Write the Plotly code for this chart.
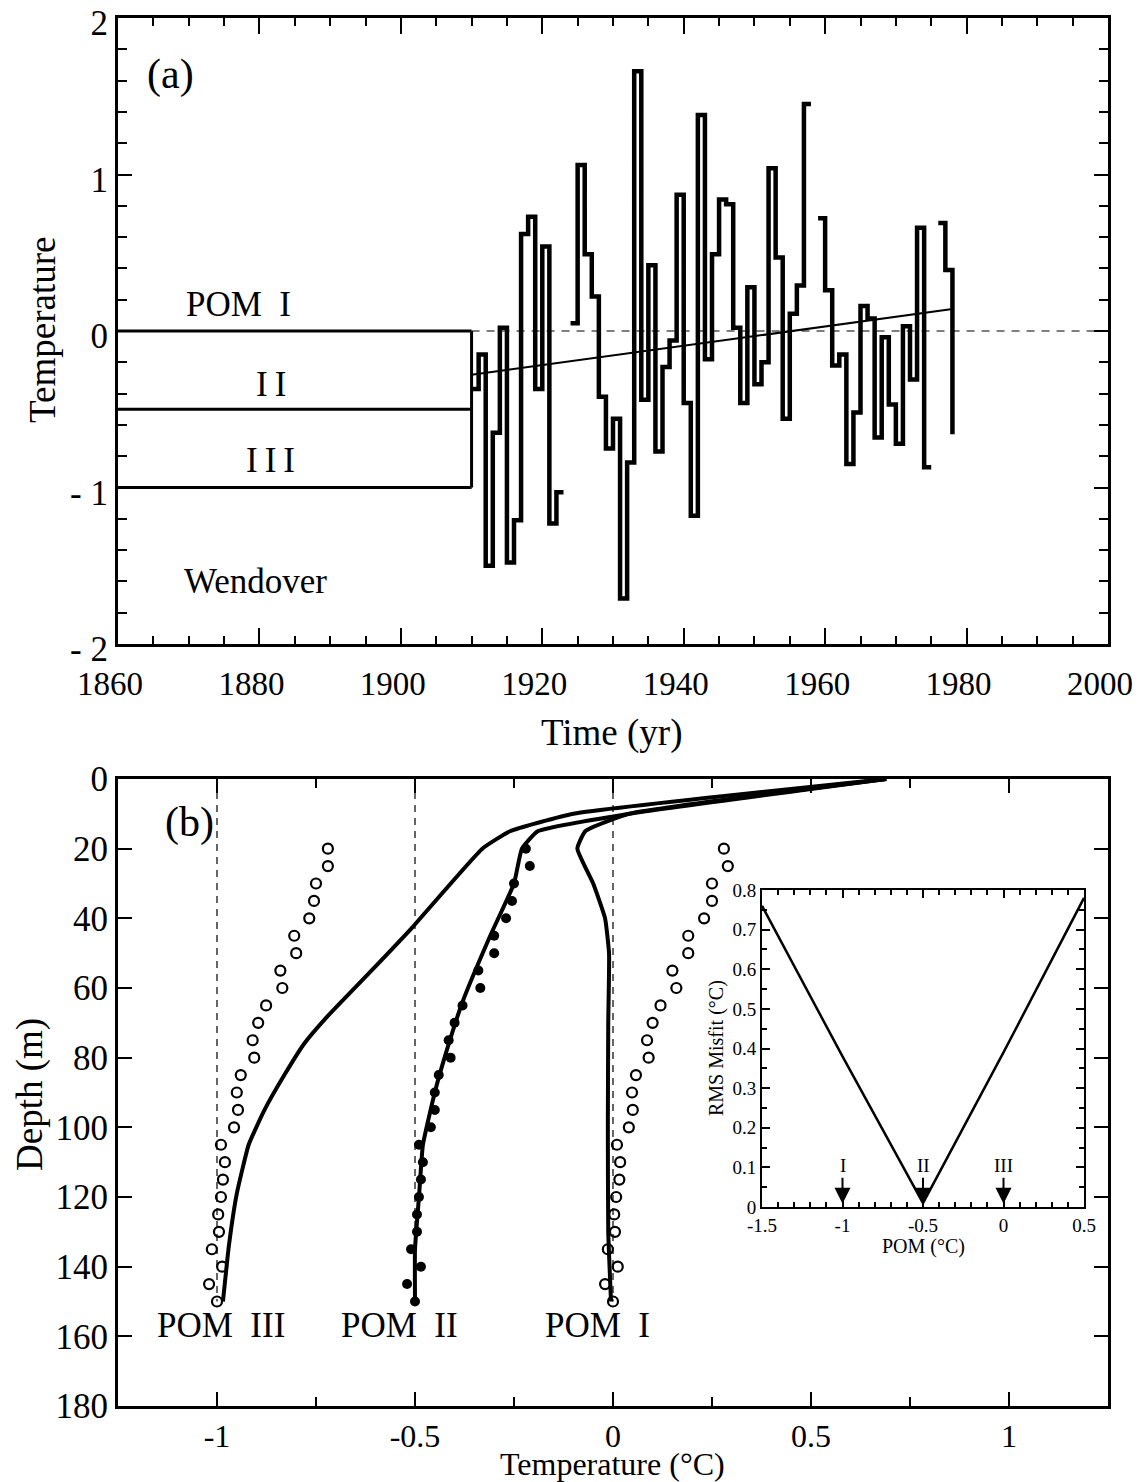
import plotly.graph_objects as go

# ---------------- Panel (a) data ----------------
years = list(range(1910, 1978))
temps = [-0.37, -0.15, -1.50, -0.65, 0.02, -1.48, -1.21, 0.62, 0.73, -0.37,
         0.54, -1.23, -1.03, None, 0.05, 1.06, 0.49, 0.22, -0.42, -0.75,
         -0.56, -1.71, -0.84, 1.66, -0.44, 0.42, -0.77, -0.23, -0.06, 0.87,
         -0.46, -1.18, 1.38, -0.18, 0.49, 0.84, 0.81, 0.02, -0.46, 0.28,
         -0.34, -0.20, 1.04, 0.47, -0.56, 0.11, 0.29, 1.45, None, 0.72,
         0.26, -0.22, -0.15, -0.85, -0.52, 0.16, 0.08, -0.68, -0.04, -0.47,
         -0.72, 0.03, -0.31, 0.66, -0.87, None, 0.69, 0.39]
end_year = 1978
end_temp = -0.66

trend_years = [1910, 1978]
trend_temps = [-0.28, 0.14]

pom_levels = [0.0, -0.5, -1.0]
pom_start, pom_end = 1860, 1910
zero_line_years = [1910, 2000]

# ---------------- Panel (b) data ----------------
obs_depth = list(range(20, 155, 5))
obs_pom2 = [-0.22, -0.21, -0.25, -0.255, -0.27, -0.30, -0.30, -0.34, -0.335, -0.38,
            -0.40, -0.415, -0.41, -0.44, -0.45, -0.45, -0.46, -0.49, -0.48, -0.485,
            -0.49, -0.495, -0.495, -0.51, -0.485, -0.52, -0.50]
obs_pom3 = [-0.72, -0.72, -0.75, -0.755, -0.767, -0.805, -0.80, -0.84, -0.835, -0.876,
            -0.896, -0.91, -0.906, -0.94, -0.95, -0.947, -0.957, -0.99, -0.98, -0.985,
            -0.99, -0.997, -0.995, -1.013, -0.987, -1.02, -1.0]
obs_pom1 = [0.28, 0.29, 0.25, 0.25, 0.23, 0.19, 0.19, 0.15, 0.16, 0.12,
            0.10, 0.086, 0.09, 0.058, 0.048, 0.05, 0.04, 0.01, 0.018, 0.016,
            0.008, 0.003, 0.005, -0.013, 0.012, -0.02, 0.0]

m3_depth = [0, 10, 15, 20, 43, 55, 68, 76, 85, 95, 105, 119, 134, 150]
m3_temp = [0.69, -0.10, -0.26, -0.33, -0.51, -0.61, -0.72, -0.78, -0.83, -0.88, -0.92, -0.95, -0.97, -0.985]
m2_depth = [0, 10, 15, 20, 30, 45, 64, 78, 90, 105, 120, 135, 150]
m2_temp = [0.69, 0.04, -0.19, -0.23, -0.25, -0.31, -0.38, -0.42, -0.45, -0.48, -0.49, -0.50, -0.50]
m1_depth = [0, 10, 15, 20, 30, 40, 50, 70, 100, 130, 150]
m1_temp = [0.69, 0.04, -0.07, -0.09, -0.05, -0.02, -0.01, -0.012, -0.013, -0.012, -0.005]

ref_temps = [-1.0, -0.5, 0.0]
ref_depth = [0, 150]

# ---------------- Inset data ----------------
inset_pom = [-1.5, -1.0, -0.5, 0.0, 0.5]
inset_rms = [0.76, 0.38, 0.01, 0.39, 0.78]
arrow_pom = [-1.0, -0.5, 0.0]
arrow_lbl = ["I", "II", "III"]

FONT = "Liberation Serif"
BLACK = "black"

# page body adds an 8px offset; figure is sized/positioned to compensate
OFF = 8
W, H = 1142 - OFF, 1482 - OFF

def px(p):
    return (p - OFF) / W

def py(p):
    return 1 - (p - OFF) / H

fig = go.Figure()

# step series
sx, sy = [], []
for yr, v in zip(years, temps):
    if v is None:
        sx.append(None); sy.append(None)
        continue
    sx += [yr, yr + 1]
    sy += [v, v]
sx.append(end_year); sy.append(end_temp)
fig.add_trace(go.Scatter(x=sx, y=sy, mode="lines", line=dict(color=BLACK, width=4.5),
                         connectgaps=False, xaxis="x", yaxis="y", showlegend=False))
fig.add_trace(go.Scatter(x=trend_years, y=trend_temps, mode="lines",
                         line=dict(color=BLACK, width=2), xaxis="x", yaxis="y", showlegend=False))
fig.add_trace(go.Scatter(x=zero_line_years, y=[0, 0], mode="lines",
                         line=dict(color=BLACK, width=1.2, dash="8px,7px"), xaxis="x", yaxis="y", showlegend=False))
for lv in pom_levels:
    fig.add_trace(go.Scatter(x=[pom_start, pom_end], y=[lv, lv], mode="lines",
                             line=dict(color=BLACK, width=3), xaxis="x", yaxis="y", showlegend=False))
fig.add_trace(go.Scatter(x=[pom_end, pom_end], y=[max(pom_levels), min(pom_levels)], mode="lines",
                         line=dict(color=BLACK, width=3), xaxis="x", yaxis="y", showlegend=False))

# panel b
for rt in ref_temps:
    fig.add_trace(go.Scatter(x=[rt, rt], y=ref_depth, mode="lines",
                             line=dict(color=BLACK, width=1.2, dash="7px,6px"),
                             xaxis="x2", yaxis="y2", showlegend=False))
for mt, md in [(m3_temp, m3_depth), (m2_temp, m2_depth), (m1_temp, m1_depth)]:
    fig.add_trace(go.Scatter(x=mt, y=md, mode="lines", line=dict(color=BLACK, width=4, shape="spline", smoothing=0.4),
                             xaxis="x2", yaxis="y2", showlegend=False))
for ot in [obs_pom3, obs_pom1]:
    fig.add_trace(go.Scatter(x=ot, y=obs_depth, mode="markers",
                             marker=dict(symbol="circle-open", size=10, color=BLACK, line=dict(width=2.2)),
                             xaxis="x2", yaxis="y2", showlegend=False))
fig.add_trace(go.Scatter(x=obs_pom2, y=obs_depth, mode="markers",
                         marker=dict(symbol="circle", size=10, color=BLACK),
                         xaxis="x2", yaxis="y2", showlegend=False))

# inset
fig.add_trace(go.Scatter(x=inset_pom, y=inset_rms, mode="lines", line=dict(color=BLACK, width=2.5),
                         xaxis="x3", yaxis="y3", showlegend=False))

MX = [px(118), px(1108)]

axis_common = dict(showline=True, linecolor=BLACK, linewidth=3, mirror="ticks", ticks="inside",
                   tickcolor=BLACK, tickwidth=2, showgrid=False, zeroline=False, automargin=False,
                   ticklabeloverflow="allow")
tf = dict(family=FONT, size=35, color=BLACK)
inset_common = dict(showline=True, linecolor=BLACK, linewidth=2, mirror="ticks", ticks="inside",
                    tickcolor=BLACK, tickwidth=1.5, ticklen=8, showgrid=False, zeroline=False,
                    automargin=False, ticklabeloverflow="allow",
                    tickfont=dict(family=FONT, size=19, color=BLACK))

fig.update_layout(
    width=W, height=H,
    margin=dict(l=0, r=0, t=0, b=0, autoexpand=False),
    paper_bgcolor="white", plot_bgcolor="white",
    xaxis=dict(domain=MX, anchor="y", range=[1860, 2000],
               tickvals=list(range(1860, 2001, 20)), ticklen=16, ticklabelstandoff=8,
               ticklabelshift=-8,
               tickfont=dict(family=FONT, size=33, color=BLACK),
               minor=dict(dtick=5, ticklen=8, tickcolor=BLACK, tickwidth=2, ticks="inside"),
               **axis_common),
    yaxis=dict(domain=[py(644), py(18)], anchor="x", range=[-2, 2],
               tickvals=[-2, -1, 0, 1, 2], ticktext=["- 2", "- 1", "0", "1", "2"], ticklen=14,
               ticklabelshift=5, tickfont=tf,
               minor=dict(dtick=0.2, ticklen=9, tickcolor=BLACK, tickwidth=2, ticks="inside"),
               **axis_common),
    xaxis2=dict(domain=MX, anchor="y2", range=[-1.25, 1.25],
                tickvals=[-1, -0.5, 0, 0.5, 1], ticktext=["-1", "-0.5", "0", "0.5", "1"], ticklen=14,
                tickfont=dict(family=FONT, size=32, color=BLACK),
                minor=dict(dtick=0.25, ticklen=9, tickcolor=BLACK, tickwidth=2, ticks="inside"),
                **axis_common),
    yaxis2=dict(domain=[py(1406), py(779)], anchor="x2", range=[180, 0],
                tickvals=list(range(0, 181, 20)), ticklen=14, tickfont=tf, **axis_common),
    xaxis3=dict(domain=[px(762), px(1084)], anchor="y3", range=[-1.5, 0.5],
                tickvals=[-1.5, -1, -0.5, 0, 0.5], ticktext=["-1.5", "-1", "-0.5", "0", "0.5"],
                minor=dict(dtick=0.1, ticklen=5, tickcolor=BLACK, tickwidth=1.5, ticks="inside"),
                **inset_common),
    yaxis3=dict(domain=[py(1207), py(890)], anchor="x3", range=[0, 0.8],
                tickvals=[0, 0.1, 0.2, 0.3, 0.4, 0.5, 0.6, 0.7, 0.8],
                ticktext=["0", "0.1", "0.2", "0.3", "0.4", "0.5", "0.6", "0.7", "0.8"],
                minor=dict(dtick=0.05, ticklen=5, tickcolor=BLACK, tickwidth=1.5, ticks="inside"),
                **inset_common),
)

def txt(x, y, s, size, xref="x", yref="y", angle=0):
    fig.add_annotation(x=x, y=y, text=s, xref=xref, yref=yref, showarrow=False, textangle=angle,
                       font=dict(family=FONT, size=size, color=BLACK), xanchor="center", yanchor="middle")

# panel a texts
txt(1867.4, 1.64, "(a)", 42)
txt(1877, 0.17, "POM  I", 35)
txt(1881.6, -0.34, "I\u2009I", 35)
txt(1881.6, -0.83, "I\u2009I\u2009I", 35)
txt(1879.4, -1.60, "Wendover", 35)
txt(px(42), py(330), "Temperature", 37, "paper", "paper", -90)
txt(px(612), py(733), "Time (yr)", 37, "paper", "paper")

# panel b texts
txt(-1.07, 12.5, "(b)", 42, "x2", "y2")
for xx, s in [(-0.99, "POM  III"), (-0.54, "POM  II"), (-0.04, "POM  I")]:
    txt(xx, 157, s, 35, "x2", "y2")
txt(px(30), py(1095), "Depth (m)", 37, "paper", "paper", -90)
txt(px(612), py(1464), "Temperature (°C)", 32, "paper", "paper")

# inset texts
for xx, s in zip(arrow_pom, arrow_lbl):
    fig.add_annotation(x=xx, y=0.008, xref="x3", yref="y3", text=s, showarrow=True,
                       ax=0, ay=-38, arrowhead=2, arrowsize=1.6, arrowwidth=2, arrowcolor=BLACK,
                       font=dict(family=FONT, size=19, color=BLACK))
txt(px(716), py(1048), "RMS Misfit (°C)", 20, "paper", "paper", -90)
txt(px(923), py(1246), "POM (°C)", 20, "paper", "paper")

fig.write_html("out.html")
